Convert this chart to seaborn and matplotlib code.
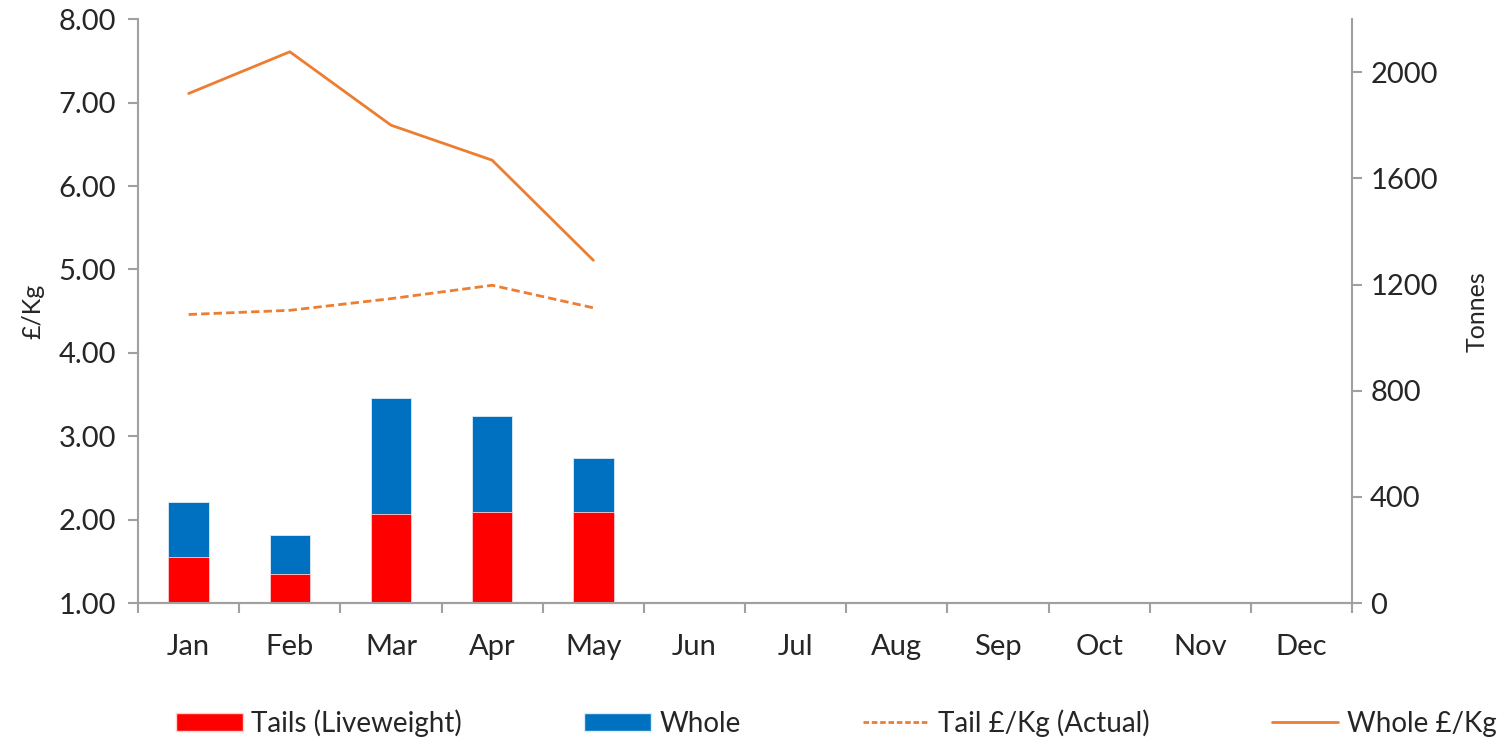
import numpy as np
import pandas as pd
import matplotlib
matplotlib.use("Agg")
import matplotlib.pyplot as plt
from matplotlib.patches import Patch
from matplotlib.lines import Line2D
import seaborn as sns

# data
months = ["Jan", "Feb", "Mar", "Apr", "May", "Jun", "Jul", "Aug", "Sep", "Oct", "Nov", "Dec"]
tails_tonnes = [173, 111, 337, 342, 342] + [np.nan] * 7
whole_tonnes = [207, 144, 437, 361, 206] + [np.nan] * 7
tail_price = [4.46, 4.51, 4.65, 4.81, 4.54] + [np.nan] * 7
whole_price = [7.11, 7.61, 6.73, 6.31, 5.11] + [np.nan] * 7

red = "#FF0000"
blue = "#0070C0"
orange = "#ED7D31"
grey = "#A0A0A0"

df = pd.DataFrame({
    "month": months,
    "pos": np.arange(len(months)),
    "tails": tails_tonnes,
    "whole": whole_tonnes,
    "tail_price": tail_price,
    "whole_price": whole_price,
})
df["total"] = df["tails"] + df["whole"]

sns.set_style("white")
plt.rcParams["font.family"] = ["Lato", "DejaVu Sans"]

fig = plt.figure(figsize=(15.04, 7.41), dpi=100)
ax = fig.add_axes([0.0918, 0.1862, 0.8072, 0.7878])
ax2 = ax.twinx()

# stacked bars on the tonnes axis (right)
sns.barplot(data=df, x="pos", y="total", color=blue, width=0.4, ax=ax2,
            edgecolor="#DDEBF7", linewidth=0.6, saturation=1, native_scale=True)
sns.barplot(data=df, x="pos", y="tails", color=red, width=0.4, ax=ax2,
            edgecolor="#FFD0D0", linewidth=0.6, saturation=1, native_scale=True)

# price lines on the £/Kg axis (left)
sns.lineplot(data=df, x="pos", y="whole_price", color=orange, lw=2.0, ax=ax)
sns.lineplot(data=df, x="pos", y="tail_price", color=orange, lw=2.0,
             linestyle=(0, (3, 1.5)), ax=ax)

ax.set_ylim(1, 8)
ax.set_yticks(np.arange(1, 9, 1))
ax.set_yticklabels([f"{v:.2f}" for v in np.arange(1, 9, 1)])
ax2.set_ylim(0, 2200)
ax2.set_yticks(np.arange(0, 2001, 400))

ax.set_xlim(-0.5, len(months) - 0.5)
ax2.set_xlim(-0.5, len(months) - 0.5)
ax.set_xticks(np.arange(len(months)))
ax.set_xticklabels(months)
ax.set_xticks(np.arange(-0.5, len(months)), minor=True)

ax.set_ylabel("£/Kg", fontsize=18, labelpad=10)
ax2.set_ylabel("Tonnes", fontsize=18, labelpad=20)
ax.set_xlabel("")
ax2.set_xlabel("")

for a in (ax, ax2):
    for s in a.spines.values():
        s.set_color(grey)
        s.set_linewidth(1.5)
    a.spines["top"].set_visible(False)
    a.grid(False)
ax.spines["right"].set_visible(False)
ax2.spines["left"].set_visible(False)

ax.tick_params(axis="y", which="major", direction="out", length=7, width=1.5,
               color=grey, labelsize=21, pad=9, left=True)
ax2.tick_params(axis="y", which="major", direction="out", length=7, width=1.5,
                color=grey, labelsize=21, pad=6, right=True)
ax.tick_params(axis="x", which="major", length=0, labelsize=21, pad=22)
ax.tick_params(axis="x", which="minor", direction="out", length=7, width=1.5,
               color=grey, bottom=True)
ax2.tick_params(axis="x", which="both", bottom=False, labelbottom=False)

handles = [
    Patch(facecolor=red, edgecolor="#FFD0D0", label="Tails (Liveweight)"),
    Patch(facecolor=blue, edgecolor="#DDEBF7", label="Whole"),
    Line2D([0], [0], color=orange, lw=2, linestyle=(0, (2, 1)), label="Tail £/Kg (Actual)"),
    Line2D([0], [0], color=orange, lw=2, label="Whole £/Kg"),
]
fig.legend(handles=handles, loc="lower center", bbox_to_anchor=(0.556, -0.028), ncol=4,
           frameon=False, fontsize=20, handlelength=2.4, handleheight=0.6,
           handletextpad=0.3, columnspacing=4.4)

fig.savefig("out.png", dpi=100)
